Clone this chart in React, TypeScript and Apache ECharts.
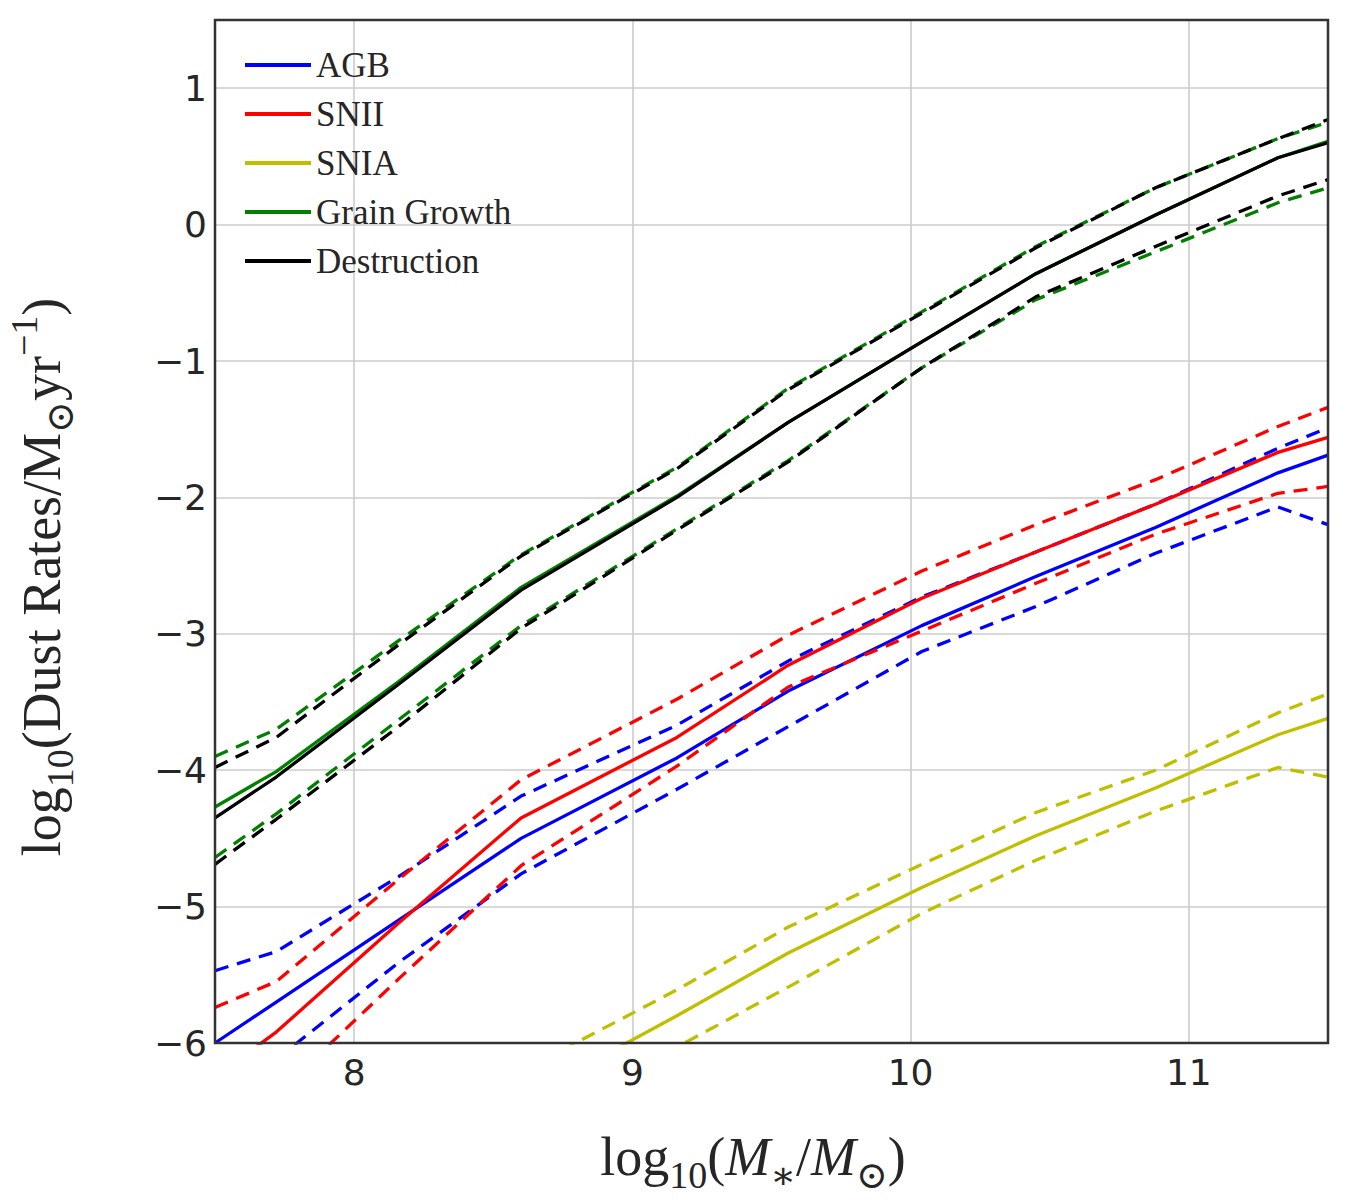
import React, { useEffect, useRef } from "react";
import * as echarts from "echarts";

// Stellar mass bins (log10 M*/Msun) at which the rates are sampled
const logMass = [7.5, 7.72, 8.16, 8.6, 9.16, 9.56, 10.04, 10.45, 10.88, 11.32, 11.5];

// log10 dust rates: median and upper / lower percentile per channel
const agbMedian = [-6.0, -5.7, -5.1, -4.5, -3.91, -3.42, -2.94, -2.58, -2.22, -1.82, -1.69];
const agbHigh = [-5.47, -5.33, -4.78, -4.19, -3.67, -3.2, -2.73, -2.4, -2.05, -1.64, -1.49];
const agbLow = [-6.35, -6.12, -5.41, -4.76, -4.14, -3.68, -3.13, -2.8, -2.41, -2.07, -2.2];

const sniiMedian = [-6.25, -5.92, -5.12, -4.35, -3.76, -3.23, -2.74, -2.4, -2.05, -1.67, -1.56];
const sniiHigh = [-5.74, -5.55, -4.8, -4.07, -3.48, -3.01, -2.54, -2.2, -1.87, -1.48, -1.34];
const sniiLow = [-6.55, -6.38, -5.53, -4.7, -3.97, -3.39, -2.98, -2.63, -2.27, -1.97, -1.92];

const sniaMedian = [null, null, null, -6.42, -5.8, -5.34, -4.86, -4.48, -4.13, -3.74, -3.62];
const sniaHigh = [null, null, null, -6.21, -5.61, -5.15, -4.69, -4.31, -4.0, -3.58, -3.44];
const sniaLow = [null, null, null, -6.6, -6.03, -5.59, -5.05, -4.66, -4.3, -3.98, -4.05];

const growthMedian = [-4.27, -4.01, -3.35, -2.66, -1.99, -1.45, -0.86, -0.36, 0.07, 0.49, 0.61];
const growthHigh = [-3.9, -3.7, -3.05, -2.42, -1.78, -1.2, -0.64, -0.16, 0.27, 0.63, 0.75];
const growthLow = [-4.64, -4.32, -3.63, -2.94, -2.23, -1.73, -1.05, -0.55, -0.2, 0.16, 0.27];

const destMedian = [-4.35, -4.05, -3.37, -2.68, -2.0, -1.45, -0.86, -0.36, 0.07, 0.49, 0.6];
const destHigh = [-3.98, -3.76, -3.08, -2.43, -1.79, -1.21, -0.65, -0.17, 0.27, 0.63, 0.77];
const destLow = [-4.69, -4.36, -3.68, -2.96, -2.24, -1.74, -1.05, -0.53, -0.16, 0.21, 0.33];

const channelNames = ["AGB", "SNII", "SNIA", "Grain Growth", "Destruction"];
const channelData = [
  [agbMedian, agbHigh, agbLow],
  [sniiMedian, sniiHigh, sniiLow],
  [sniaMedian, sniaHigh, sniaLow],
  [growthMedian, growthHigh, growthLow],
  [destMedian, destHigh, destLow],
];

// Styling
const channelColors = ["#0000ff", "#ff0000", "#bfbf00", "#008000", "#000000"];
const TEXT = "#262626";
const SERIF = "'Liberation Serif', 'DejaVu Serif', serif";
const SANS = "'DejaVu Sans', sans-serif";
const DASH = [14, 9];

// Plot area in pixels
const PLOT = { left: 215, top: 20, width: 1113, height: 1023 };

function toPoints(values: (number | null)[]) {
  const pts: [number, number][] = [];
  values.forEach((v, i) => {
    if (v !== null) pts.push([logMass[i], v]);
  });
  return pts;
}

function tickText(v: number) {
  if (!Number.isInteger(v)) return "";
  return v < 0 ? "\u2212" + String(-v) : String(v);
}

const rich = {
  n: { fontFamily: SERIF, fontSize: 54, lineHeight: 54, fill: TEXT },
  i: { fontFamily: SERIF, fontSize: 54, lineHeight: 54, fontStyle: "italic", fill: TEXT },
  s: { fontFamily: SERIF, fontSize: 38, lineHeight: 38, padding: [36, 0, 0, 0], fill: TEXT },
  p: { fontFamily: SERIF, fontSize: 38, lineHeight: 38, padding: [0, 0, 36, 0], fill: TEXT },
};

export default function App() {
  const ref = useRef<HTMLDivElement>(null);

  useEffect(() => {
    if (!ref.current) return;
    const chart = echarts.init(ref.current, undefined, { renderer: "svg" });

    const series: any[] = [];
    channelNames.forEach((name, c) => {
      const color = channelColors[c];
      channelData[c].forEach((values, k) => {
        series.push({
          type: "line",
          name,
          data: toPoints(values),
          symbol: "none",
          showSymbol: false,
          silent: true,
          clip: true,
          color,
          itemStyle: { color },
          lineStyle: { color, width: 3.3, type: k === 0 ? "solid" : DASH, cap: "butt" },
          emphasis: { disabled: true },
        });
      });
    });

    const gridLine = { show: true, lineStyle: { color: "#cccccc", width: 1.6 } };

    chart.setOption({
      animation: false,
      backgroundColor: "#ffffff",
      grid: { ...PLOT, show: false },
      xAxis: {
        type: "value",
        min: 7.5,
        max: 11.5,
        minInterval: 1,
        maxInterval: 1,
        axisLine: { show: false, onZero: false },
        axisTick: { show: false },
        splitLine: gridLine,
        axisLabel: {
          formatter: tickText,
          fontFamily: SANS,
          fontSize: 36,
          color: TEXT,
          margin: 11,
        },
      },
      yAxis: {
        type: "value",
        min: -6,
        max: 1.5,
        interval: 1,
        axisLine: { show: false, onZero: false },
        axisTick: { show: false },
        splitLine: gridLine,
        axisLabel: {
          formatter: tickText,
          fontFamily: SANS,
          fontSize: 36,
          color: TEXT,
          margin: 8,
        },
      },
      legend: {
        data: channelNames,
        orient: "vertical",
        left: 245,
        top: 47,
        padding: 0,
        itemGap: 13,
        itemWidth: 66,
        itemHeight: 4,
        icon: "rect",
        selectedMode: false,
        textStyle: { fontFamily: SERIF, fontSize: 35, lineHeight: 36, color: TEXT },
      },
      graphic: [
        {
          // frame around the plotting area, kept above the grid lines
          type: "rect",
          z: 100,
          silent: true,
          shape: { x: PLOT.left, y: PLOT.top, width: PLOT.width, height: PLOT.height },
          style: { fill: "none", stroke: "#333333", lineWidth: 2.5 },
        },
        {
          type: "text",
          x: 753,
          y: 1157,
          silent: true,
          style: {
            text: "{n|log}{s|10}{n|(}{i|M}{s|\u2217}{n|/}{i|M}{s|\u2299}{n|)}",
            rich,
            align: "center",
            verticalAlign: "middle",
            textAlign: "center",
            textVerticalAlign: "middle",
          },
        },
        {
          type: "text",
          x: 42,
          y: 577,
          rotation: Math.PI / 2,
          silent: true,
          style: {
            text: "{n|log}{s|10}{n|(Dust Rates/M}{s|\u2299}{n|yr}{p|\u22121}{n|)}",
            rich,
            align: "center",
            verticalAlign: "middle",
            textAlign: "center",
            textVerticalAlign: "middle",
          },
        },
      ],
      series,
    });

    return () => chart.dispose();
  }, []);

  return (
    <div
      ref={ref}
      style={{ position: "absolute", left: 0, top: 0, width: 1350, height: 1200, background: "#ffffff" }}
    />
  );
}
